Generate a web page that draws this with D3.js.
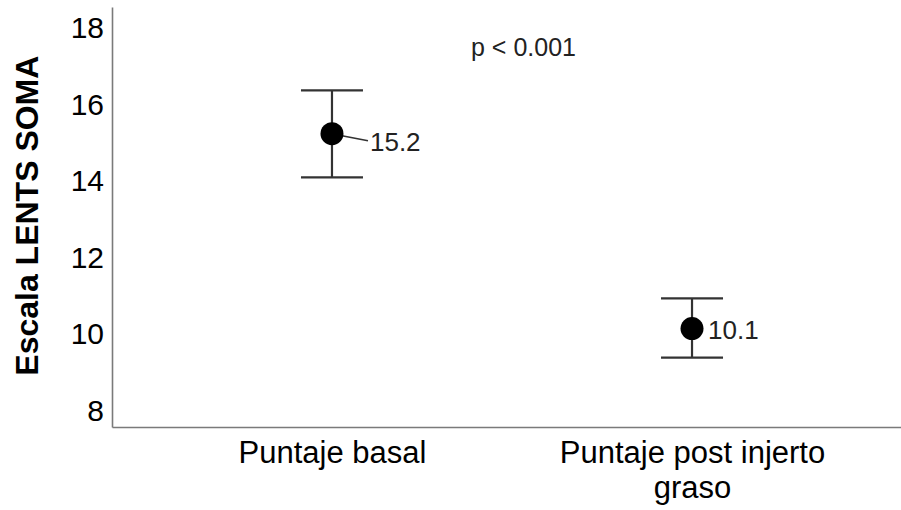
<!DOCTYPE html>
<html>
<head>
<meta charset="utf-8">
<script src="https://cdn.jsdelivr.net/npm/d3@7"></script>
<style>
  body { margin: 0; background: #fff; }
  svg { display: block; font-family: "Liberation Sans", Arial, sans-serif; }
</style>
</head>
<body>
<div class="wrapper"></div>
<script>
var categories = ["Puntaje basal", "Puntaje post injerto graso"];
var means = [15.24, 10.15];
var upper = [16.37, 10.94];
var lower = [14.10, 9.39];
var meanLabels = ["15.2", "10.1"];
var yTicks = [8, 10, 12, 14, 16, 18];
var yTitle = "Escala LENTS SOMA";
var pText = "p < 0.001";

var width = 901, height = 510;
var margin = {top: 7, left: 112, bottom: 83};

var svg = d3.select(".wrapper").append("svg")
  .attr("width", width)
  .attr("height", height);

var x = d3.scalePoint()
  .domain(categories)
  .range([margin.left, 912])
  .padding(0.611);

var y = d3.scaleLinear()
  .domain([7.58, 18.55])
  .range([height - margin.bottom, margin.top]);

// wrap long category labels
function wrap(text, w) {
  text.each(function() {
    var text = d3.select(this),
      words = text.text().split(/\s+/).reverse(),
      word,
      line = [],
      lineNumber = 0,
      lineHeight = 1.13,
      yy = text.attr("y"),
      dy = parseFloat(text.attr("dy")),
      tspan = text.text(null).append("tspan").attr("x", 0).attr("y", yy).attr("dy", dy + "em");
    while (word = words.pop()) {
      line.push(word);
      tspan.text(line.join(" "));
      if (tspan.node().getComputedTextLength() > w && line.length > 1) {
        line.pop();
        tspan.text(line.join(" "));
        line = [word];
        tspan = text.append("tspan").attr("x", 0).attr("y", yy)
          .attr("dy", ++lineNumber * lineHeight + dy + "em").text(word);
      }
    }
  });
}

// y axis
var gy = svg.append("g")
  .attr("transform", "translate(" + margin.left + ",0)")
  .call(d3.axisLeft(y).tickValues(yTicks).tickSize(0).tickPadding(8).tickFormat(d3.format("d")));
gy.select(".domain").attr("stroke", "#7a7a7a").attr("stroke-width", 1.6);
gy.selectAll("text")
  .attr("font-size", 30)
  .attr("font-family", "Liberation Sans, Arial, sans-serif")
  .attr("fill", "#000");

// x axis
var gx = svg.append("g")
  .attr("transform", "translate(0," + (height - margin.bottom) + ")")
  .call(d3.axisBottom(x).tickSize(0).tickPadding(14));
gx.select(".domain").attr("stroke", "#7a7a7a").attr("stroke-width", 1.6);
gx.selectAll("text")
  .attr("font-size", 31)
  .attr("font-family", "Liberation Sans, Arial, sans-serif")
  .attr("fill", "#000")
  .call(wrap, 320);

// y title
svg.append("text")
  .attr("transform", "translate(" + 38 + "," + y(13.1) + ") rotate(-90)")
  .attr("text-anchor", "middle")
  .attr("font-size", 32)
  .attr("font-weight", "bold")
  .attr("fill", "#000")
  .text(yTitle);

// p value
svg.append("text")
  .attr("x", 471)
  .attr("y", 56)
  .attr("font-size", 25)
  .attr("fill", "#222")
  .text(pText);

var capHalf = 31;
var g = svg.append("g");

categories.forEach(function(c, i) {
  var cx = x(c);
  g.append("line")
    .attr("x1", cx).attr("x2", cx)
    .attr("y1", y(upper[i])).attr("y2", y(lower[i]))
    .attr("stroke", "#333").attr("stroke-width", 2.2);
  [upper[i], lower[i]].forEach(function(v) {
    g.append("line")
      .attr("x1", cx - capHalf).attr("x2", cx + capHalf)
      .attr("y1", y(v)).attr("y2", y(v))
      .attr("stroke", "#333").attr("stroke-width", 2.2);
  });
});

// leader for first label
g.append("line")
  .attr("x1", x(categories[0]) + 10).attr("y1", y(means[0]) + 2)
  .attr("x2", x(categories[0]) + 36).attr("y2", y(means[0]) + 7)
  .attr("stroke", "#333").attr("stroke-width", 1.6);

g.selectAll("circle")
  .data(categories)
  .enter().append("circle")
    .attr("cx", function(d) { return x(d); })
    .attr("cy", function(d, i) { return y(means[i]); })
    .attr("r", 11.5)
    .attr("fill", "#000");

var labelDx = [38, 16];
var labelDy = [17, 10];
g.selectAll(".mlabel")
  .data(categories)
  .enter().append("text")
    .attr("class", "mlabel")
    .attr("x", function(d, i) { return x(d) + labelDx[i]; })
    .attr("y", function(d, i) { return y(means[i]) + labelDy[i]; })
    .attr("font-size", 26)
    .attr("fill", "#222")
    .text(function(d, i) { return meanLabels[i]; });
</script>
</body>
</html>
